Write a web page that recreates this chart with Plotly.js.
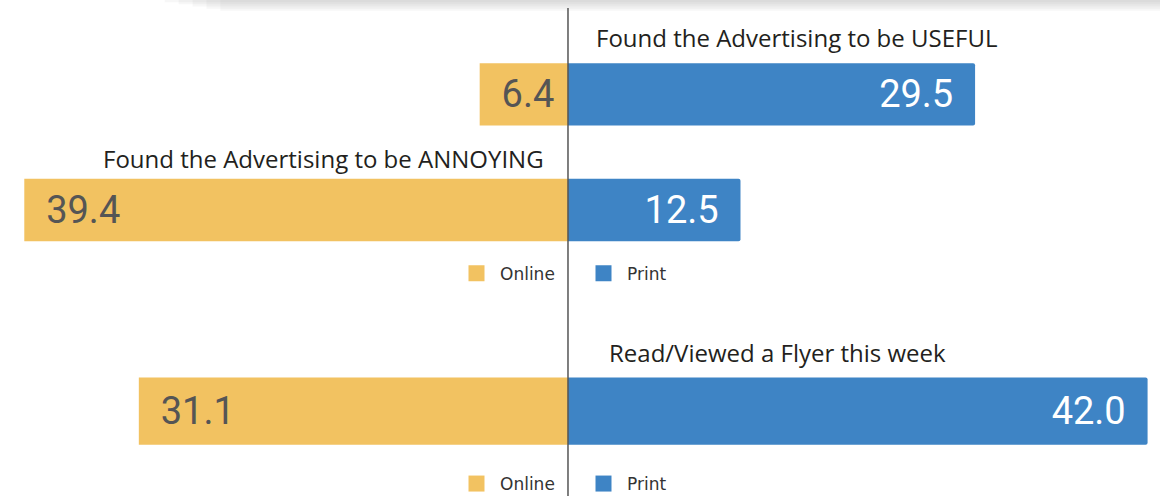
<!DOCTYPE html>
<html>
<head>
<meta charset="utf-8">
<script src="https://cdn.plot.ly/plotly-3.0.1.min.js"></script>
<style>
  html, body { margin: 0; padding: 0; background: #ffffff; }
  #chart { width: 1160px; height: 502px; }
</style>
</head>
<body>
<div id="chart"></div>
<script>
// ---- data ----
const categoriesTop = ['Found the Advertising to be USEFUL', 'Found the Advertising to be ANNOYING'];
const categoriesBottom = ['Read/Viewed a Flyer this week'];
const seriesNames = ['Online', 'Print'];
const onlineTop = [6.4, 39.4];
const printTop = [29.5, 12.5];
const onlineBottom = [31.1];
const printBottom = [42.0];

// ---- styles ----
const ONLINE_COLOR = '#F2C261';
const PRINT_COLOR = '#3E84C5';
const NBSP = '\u00a0\u00a0';
const numFont = { family: 'Roboto, sans-serif', size: 38, weight: 400 };

function onlineTrace(vals, cats, yaxis) {
  return {
    type: 'bar', orientation: 'h', name: seriesNames[0],
    x: vals.map(v => -v), y: cats, yaxis: yaxis, xaxis: 'x',
    text: vals.map(v => NBSP + v.toFixed(1)),
    textposition: 'inside', insidetextanchor: 'end', textangle: 0,
    textfont: Object.assign({ color: '#555555' }, numFont),
    marker: { color: ONLINE_COLOR, line: { width: 0 } },
    width: 0.54, showlegend: false, hoverinfo: 'skip'
  };
}
function printTrace(vals, cats, yaxis) {
  return {
    type: 'bar', orientation: 'h', name: seriesNames[1],
    x: vals, y: cats, yaxis: yaxis, xaxis: 'x',
    text: vals.map(v => v.toFixed(1) + NBSP),
    textposition: 'inside', insidetextanchor: 'end', textangle: 0,
    textfont: Object.assign({ color: '#ffffff' }, numFont),
    marker: { color: PRINT_COLOR, line: { width: 0 }, cornerradius: 2 },
    width: 0.54, showlegend: false, hoverinfo: 'skip'
  };
}
function legendProxy(name, color, legend) {
  return {
    type: 'scatter', mode: 'markers', name: name, x: [null], y: [null],
    xaxis: 'x', yaxis: 'y', legend: legend,
    marker: { symbol: 'square', size: 16, color: color }, hoverinfo: 'skip'
  };
}

const data = [
  onlineTrace(onlineTop, categoriesTop, 'y'),
  printTrace(printTop, categoriesTop, 'y'),
  onlineTrace(onlineBottom, categoriesBottom, 'y2'),
  printTrace(printBottom, categoriesBottom, 'y2'),
  legendProxy(seriesNames[0], ONLINE_COLOR, 'legend'),
  legendProxy(seriesNames[1], PRINT_COLOR, 'legend'),
  legendProxy(seriesNames[0], ONLINE_COLOR, 'legend2'),
  legendProxy(seriesNames[1], PRINT_COLOR, 'legend2')
];

const H = 502;
const titleFont = { family: '"Open Sans", sans-serif', size: 24, color: '#231f20' };
const legendFont = { family: '"DejaVu Sans", sans-serif', size: 17, color: '#333333' };

const annotations = [
  { xref: 'x', yref: 'y', x: 0, y: categoriesTop[0], xshift: 26, yshift: 57,
    xanchor: 'left', yanchor: 'middle', text: categoriesTop[0], showarrow: false, font: titleFont },
  { xref: 'x', yref: 'y', x: 0, y: categoriesTop[1], xshift: -22, yshift: 51,
    xanchor: 'right', yanchor: 'middle', text: categoriesTop[1], showarrow: false, font: titleFont },
  { xref: 'x', yref: 'y2', x: 0, y: categoriesBottom[0], xshift: 39, yshift: 59,
    xanchor: 'left', yanchor: 'middle', text: categoriesBottom[0], showarrow: false, font: titleFont }
];

// soft shadow strip along the top edge
const shapes = [];
for (let i = 1; i <= 5; i++) {
  shapes.push({
    type: 'rect', xref: 'paper', yref: 'paper', layer: 'below',
    x0: 0.13 + 0.012 * i, x1: 1, y0: 1 - (2.2 * i) / H, y1: 1,
    fillcolor: '#9a9a9a', opacity: 0.08, line: { width: 0 }
  });
}
shapes.push({
  type: 'line', xref: 'x', yref: 'paper', x0: 0, x1: 0, y0: 0, y1: 1 - 8 / H,
  line: { color: '#555555', width: 1.5 }, layer: 'above'
});

const legendCommon = {
  orientation: 'h', x: 453 / 1160, xanchor: 'left', yanchor: 'middle',
  entrywidth: 75, entrywidthmode: 'pixels', itemwidth: 37, font: legendFont,
  bgcolor: 'rgba(0,0,0,0)', itemsizing: 'trace', itemclick: false, itemdoubleclick: false
};

const layout = {
  width: 1160, height: H,
  margin: { l: 0, r: 0, t: 0, b: 0, pad: 0 },
  paper_bgcolor: '#ffffff', plot_bgcolor: 'rgba(0,0,0,0)',
  barmode: 'overlay',
  xaxis: { range: [-41.16, 42.9], visible: false, fixedrange: true },
  yaxis: { type: 'category', categoryarray: categoriesTop, range: [1.5, -0.5],
           domain: [1 - 271 / H, 1 - 37 / H], visible: false, fixedrange: true },
  yaxis2: { type: 'category', categoryarray: categoriesBottom, range: [0.5, -0.5],
            domain: [1 - 479 / H, 1 - 353 / H], visible: false, fixedrange: true, anchor: 'x' },
  showlegend: true,
  legend: Object.assign({}, legendCommon, { y: 1 - 277 / H }),
  legend2: Object.assign({}, legendCommon, { y: 1 - 490 / H }),
  annotations: annotations,
  shapes: shapes
};

Plotly.newPlot('chart', data, layout, { displayModeBar: false, staticPlot: true });
</script>
</body>
</html>
